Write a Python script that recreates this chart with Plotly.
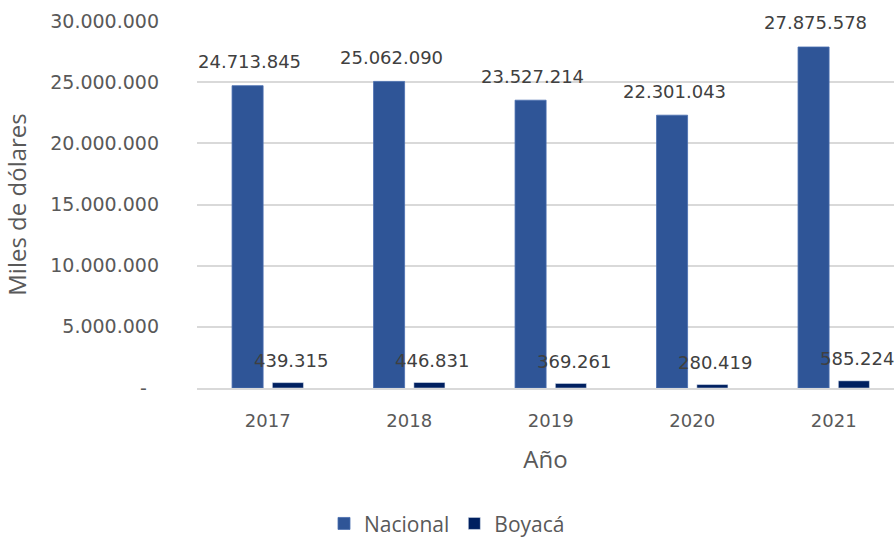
import plotly.graph_objects as go

years = ["2017", "2018", "2019", "2020", "2021"]
nacional = [24713845, 25062090, 23527214, 22301043, 27875578]
boyaca = [439315, 446831, 369261, 280419, 585224]
nacional_labels = ["24.713.845", "25.062.090", "23.527.214", "22.301.043", "27.875.578"]
boyaca_labels = ["439.315", "446.831", "369.261", "280.419", "585.224"]
ytick_vals = [0, 5000000, 10000000, 15000000, 20000000, 25000000, 30000000]
ytick_text = ["-  ", "5.000.000", "10.000.000", "15.000.000", "20.000.000", "25.000.000", "30.000.000"]

label_font = dict(family="DejaVu Sans", size=18, color="#404040")

fig = go.Figure()
fig.add_trace(go.Bar(
    name="Nacional", x=years, y=nacional,
    marker=dict(color="#2F5597", line=dict(color="#4A6FB0", width=0.8)),
))
fig.add_trace(go.Bar(
    name="Boyacá", x=years, y=boyaca,
    marker=dict(color="#002060"),
))

# data labels anchored on each bar's value (offset to each bar of the group)
for i, (v, t) in enumerate(zip(nacional, nacional_labels)):
    fig.add_annotation(x=i, y=v, xref="x", yref="y", text=t, showarrow=False,
                       xshift=-18, yshift=24, yanchor="middle", font=label_font)
for i, (v, t) in enumerate(zip(boyaca, boyaca_labels)):
    fig.add_annotation(x=i, y=v, xref="x", yref="y", text=t, showarrow=False,
                       xshift=23, yshift=22, yanchor="middle", font=label_font)

fig.update_layout(
    width=894, height=540,
    margin=dict(l=197, r=0, t=21, b=152, autoexpand=False),
    paper_bgcolor="white", plot_bgcolor="white",
    barmode="group", bargap=0.43, bargroupgap=0.23,
    legend=dict(orientation="h", x=0.5, xanchor="center", xref="container",
                y=0.03, yanchor="middle", yref="container",
                font=dict(family="Open Sans", size=21, color="#595959"),
                itemwidth=30, traceorder="normal"),
    font=dict(family="DejaVu Sans", color="#595959"),
)
fig.update_xaxes(
    type="category",
    range=[-0.5, 4.426], showgrid=False, showline=True, linecolor="#D9D9D9", linewidth=1.5,
    tickfont=dict(family="DejaVu Sans", size=18, color="#595959"), ticks="",
    ticklabelstandoff=16, automargin=False,
    title=dict(text="Año", font=dict(family="Open Sans", size=24, color="#595959"), standoff=21),
)
fig.update_yaxes(
    range=[0, 30000000], tickvals=ytick_vals, ticktext=ytick_text,
    showgrid=True, gridcolor="#D9D9D9", gridwidth=1.5, zeroline=False,
    tickfont=dict(family="DejaVu Sans", size=19, color="#595959"),
    ticklabelstandoff=37, automargin=False,
    title=dict(text="Miles de dólares", font=dict(family="Open Sans", size=24, color="#595959"), standoff=20),
)

fig.write_html("out.html", config={"displayModeBar": False},
               post_script="document.body.style.margin='0';")
